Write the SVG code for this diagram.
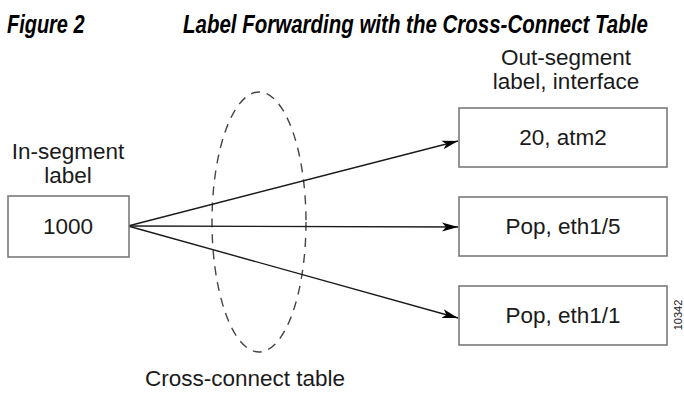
<svg xmlns="http://www.w3.org/2000/svg" width="684" height="395" viewBox="0 0 684 395">
  <defs>
    <style>
      .title { font-family: "Liberation Sans", Arial, sans-serif; font-weight: bold; font-style: italic; font-size: 25px; fill: #000; }
      .lbl { font-family: "Liberation Sans", Arial, sans-serif; font-size: 22.5px; fill: #1a1a1a; }
      .box { fill: #fff; stroke: #7a7a7a; stroke-width: 1.6; }
      .conn { stroke: #1a1a1a; stroke-width: 1.4; fill: none; }
      .ell { fill: none; stroke: #444; stroke-width: 1.4; stroke-dasharray: 9 7; }
      .num { font-family: "Liberation Sans", Arial, sans-serif; font-size: 11px; fill: #222; }
    </style>
    <marker id="arrow" viewBox="0 0 16 10" refX="16" refY="5" markerWidth="16" markerHeight="10" markerUnits="userSpaceOnUse" orient="auto">
      <path d="M0,0.5 L16,5 L0,9.5 L4,5 Z" fill="#000"/>
    </marker>
  </defs>
  <rect width="684" height="395" fill="#fff"/>

  <g id="title">
    <text class="title" transform="translate(7,33) scale(0.8,1)" textLength="97" lengthAdjust="spacingAndGlyphs">Figure 2</text>
    <text class="title" transform="translate(183,33) scale(0.8,1)" textLength="581" lengthAdjust="spacingAndGlyphs">Label Forwarding with the Cross-Connect Table</text>
  </g>

  <g id="cross-connect-table">
    <ellipse class="ell" cx="259" cy="222" rx="47" ry="130"/>
    <text class="lbl" x="245" y="386" text-anchor="middle">Cross-connect table</text>
  </g>

  <g id="connectors">
    <line class="conn" x1="128" y1="226" x2="458" y2="141" marker-end="url(#arrow)"/>
    <line class="conn" x1="128" y1="226" x2="458" y2="227" marker-end="url(#arrow)"/>
    <line class="conn" x1="128" y1="226" x2="458" y2="318" marker-end="url(#arrow)"/>
  </g>

  <g id="in-segment">
    <text class="lbl" x="68" y="159" text-anchor="middle">In-segment</text>
    <text class="lbl" x="68" y="183" text-anchor="middle">label</text>
    <rect class="box" x="8" y="196" width="121" height="61"/>
    <text class="lbl" x="68" y="234" text-anchor="middle">1000</text>
  </g>

  <g id="out-segment-header">
    <text class="lbl" x="566" y="65" text-anchor="middle">Out-segment</text>
    <text class="lbl" x="566" y="89" text-anchor="middle">label, interface</text>
  </g>

  <g id="out-1">
    <rect class="box" x="459" y="108" width="208" height="59"/>
    <text class="lbl" x="563" y="145" text-anchor="middle">20, atm2</text>
  </g>
  <g id="out-2">
    <rect class="box" x="459" y="197" width="208" height="59"/>
    <text class="lbl" x="563" y="234" text-anchor="middle">Pop, eth1/5</text>
  </g>
  <g id="out-3">
    <rect class="box" x="459" y="286" width="208" height="59"/>
    <text class="lbl" x="563" y="323" text-anchor="middle">Pop, eth1/1</text>
  </g>

  <text class="num" transform="translate(682,315) rotate(-90)" text-anchor="middle">10342</text>
</svg>
